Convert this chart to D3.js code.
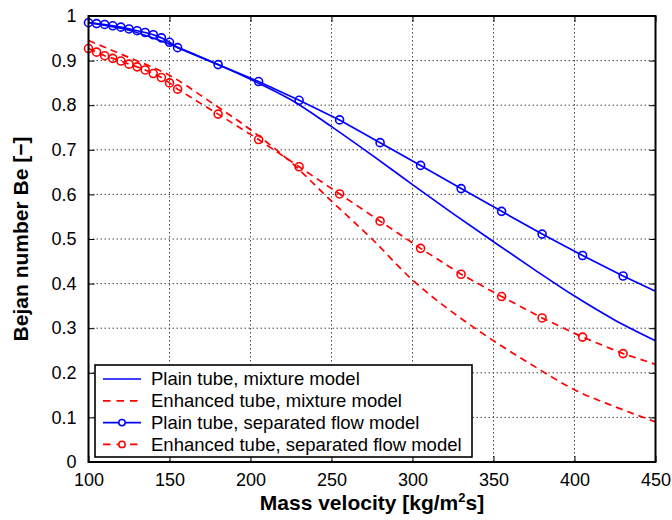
<!DOCTYPE html>
<html>
<head>
<meta charset="utf-8">
<script src="https://cdn.jsdelivr.net/npm/d3@7"></script>
<style>
  html, body { margin: 0; padding: 0; background: #fff; }
  svg { display: block; font-family: "Liberation Sans", Arial, sans-serif; }
</style>
</head>
<body>
<svg id="chart" width="672" height="520"></svg>
<script>
// ---------- data ----------
const xTicks = [100, 150, 200, 250, 300, 350, 400, 450];
const xTickLabels = ["100", "150", "200", "250", "300", "350", "400", "450"];
const yTicks = [0, 0.1, 0.2, 0.3, 0.4, 0.5, 0.6, 0.7, 0.8, 0.9, 1];
const yTickLabels = ["0", "0.1", "0.2", "0.3", "0.4", "0.5", "0.6", "0.7", "0.8", "0.9", "1"];

// mixture model curves
const mixX = [100, 125, 150, 175, 200, 225, 250, 275, 300, 325, 350, 375, 400, 425, 450];
const plainMixture = [0.985, 0.968, 0.937, 0.899, 0.858, 0.812, 0.752, 0.688, 0.622, 0.557, 0.494, 0.432, 0.372, 0.318, 0.272];
const enhancedMixture = [0.945, 0.907, 0.867, 0.808, 0.745, 0.672, 0.585, 0.500, 0.408, 0.335, 0.272, 0.215, 0.162, 0.124, 0.090];

// separated flow model (markers at every point except the last)
const sepX = [100, 105, 110, 115, 120, 125, 130, 135, 140, 145, 150, 155, 180, 205, 230, 255, 280, 305, 330, 355, 380, 405, 430, 450];
const plainSeparated = [0.985, 0.983, 0.981, 0.978, 0.975, 0.971, 0.967, 0.963, 0.958, 0.951, 0.941, 0.929, 0.891, 0.853, 0.811, 0.767, 0.716, 0.665, 0.613, 0.562, 0.511, 0.463, 0.417, 0.383];
const enhancedSeparated = [0.927, 0.919, 0.911, 0.905, 0.899, 0.892, 0.886, 0.879, 0.871, 0.862, 0.850, 0.836, 0.780, 0.723, 0.662, 0.601, 0.540, 0.479, 0.421, 0.371, 0.323, 0.280, 0.243, 0.219];

const seriesNames = [
  "Plain tube, mixture model",
  "Enhanced tube, mixture model",
  "Plain tube, separated flow model",
  "Enhanced tube, separated flow model"
];

// ---------- layout ----------
const svg = d3.select("#chart");
const L = 88.5, R = 655.5, T = 16, B = 462;
const x = d3.scaleLinear().domain([100, 450]).range([L, R]);
const y = d3.scaleLinear().domain([0, 1]).range([B, T]);

const BLUE = "#0000ff", RED = "#ff0000";

// grid
const grid = svg.append("g").attr("stroke", "#444").attr("stroke-width", 1).attr("stroke-dasharray", "1.5,2.5");
grid.selectAll(".gx").data(xTicks.slice(1, -1)).enter().append("line")
  .attr("x1", d => x(d)).attr("x2", d => x(d)).attr("y1", T).attr("y2", B);
grid.selectAll(".gy").data(yTicks.slice(1, -1)).enter().append("line")
  .attr("x1", L).attr("x2", R).attr("y1", d => y(d)).attr("y2", d => y(d));

// axes
function styleAxis(g) {
  g.select(".domain").remove();
  g.selectAll(".tick line").attr("stroke", "#000").attr("stroke-width", 1);
  g.selectAll(".tick text").attr("font-size", 18).attr("fill", "#000")
    .attr("font-family", "'Liberation Sans', Arial, sans-serif");
}
const fmtX = d => xTickLabels[xTicks.indexOf(d)];
const fmtY = d => yTickLabels[yTicks.indexOf(d)];

svg.append("g").attr("transform", `translate(0,${B})`)
  .call(d3.axisBottom(x).tickValues(xTicks).tickFormat(fmtX).tickSize(-6).tickPadding(11))
  .call(styleAxis);
svg.append("g").attr("transform", `translate(0,${T})`)
  .call(d3.axisTop(x).tickValues(xTicks).tickFormat("").tickSize(-6))
  .call(styleAxis);
svg.append("g").attr("transform", `translate(${L},0)`)
  .call(d3.axisLeft(y).tickValues(yTicks).tickFormat(fmtY).tickSize(-6).tickPadding(12))
  .call(styleAxis);
svg.append("g").attr("transform", `translate(${R},0)`)
  .call(d3.axisRight(y).tickValues(yTicks).tickFormat("").tickSize(-6))
  .call(styleAxis);

// lines
const lineGen = d3.line().x(d => x(d[0])).y(d => y(d[1])).curve(d3.curveMonotoneX);
const straight = d3.line().x(d => x(d[0])).y(d => y(d[1]));

const plots = svg.append("g");
function drawSeries(xs, ys, color, dashed, markers, gen) {
  const pts = xs.map((v, i) => [v, ys[i]]);
  plots.append("path").datum(pts)
    .attr("d", gen)
    .attr("fill", "none").attr("stroke", color).attr("stroke-width", 1.7)
    .attr("stroke-dasharray", dashed ? "7,5" : null);
  if (markers) {
    plots.selectAll(null).data(pts.slice(0, -1)).enter().append("circle")
      .attr("cx", d => x(d[0])).attr("cy", d => y(d[1])).attr("r", 4)
      .attr("fill", "none").attr("stroke", color).attr("stroke-width", 1.6);
  }
}
drawSeries(mixX, plainMixture, BLUE, false, false, lineGen);
drawSeries(mixX, enhancedMixture, RED, true, false, lineGen);
drawSeries(sepX, plainSeparated, BLUE, false, true, straight);
drawSeries(sepX, enhancedSeparated, RED, true, true, straight);

// frame
svg.append("rect").attr("x", L).attr("y", T).attr("width", R - L).attr("height", B - T)
  .attr("fill", "none").attr("stroke", "#000").attr("stroke-width", 2);

// legend
const lg = svg.append("g");
lg.append("rect").attr("x", 95).attr("y", 365).attr("width", 377).attr("height", 92)
  .attr("fill", "#fff").attr("stroke", "#000").attr("stroke-width", 1.6);
const legendItems = [
  { color: BLUE, dashed: false, marker: false },
  { color: RED, dashed: true, marker: false },
  { color: BLUE, dashed: false, marker: true },
  { color: RED, dashed: true, marker: true }
];
legendItems.forEach((it, i) => {
  const cy = 379 + i * 21.8;
  lg.append("line").attr("x1", 103).attr("x2", 141).attr("y1", cy).attr("y2", cy)
    .attr("stroke", it.color).attr("stroke-width", 1.7)
    .attr("stroke-dasharray", it.dashed ? "7.5,6" : null);
  if (it.marker) {
    lg.append("circle").attr("cx", 122).attr("cy", cy).attr("r", 3.2)
      .attr("fill", "#fff").attr("stroke", it.color).attr("stroke-width", 1.5);
  }
  lg.append("text").attr("x", 151).attr("y", cy).attr("dy", "0.35em")
    .attr("font-size", 18.5).attr("fill", "#000").text(seriesNames[i]);
});

// axis titles
const xt = svg.append("text").attr("x", (L + R) / 2).attr("y", 510)
  .attr("text-anchor", "middle").attr("font-size", 21).attr("font-weight", "bold");
xt.append("tspan").text("Mass velocity [kg/m");
xt.append("tspan").attr("font-size", 13).attr("dy", -8).text("2");
xt.append("tspan").attr("dy", 8).text("s]");

svg.append("text").attr("transform", `translate(28,${(T + B) / 2}) rotate(-90)`)
  .attr("text-anchor", "middle").attr("font-size", 21).attr("font-weight", "bold")
  .text("Bejan number Be [\u2212]");
</script>
</body>
</html>
